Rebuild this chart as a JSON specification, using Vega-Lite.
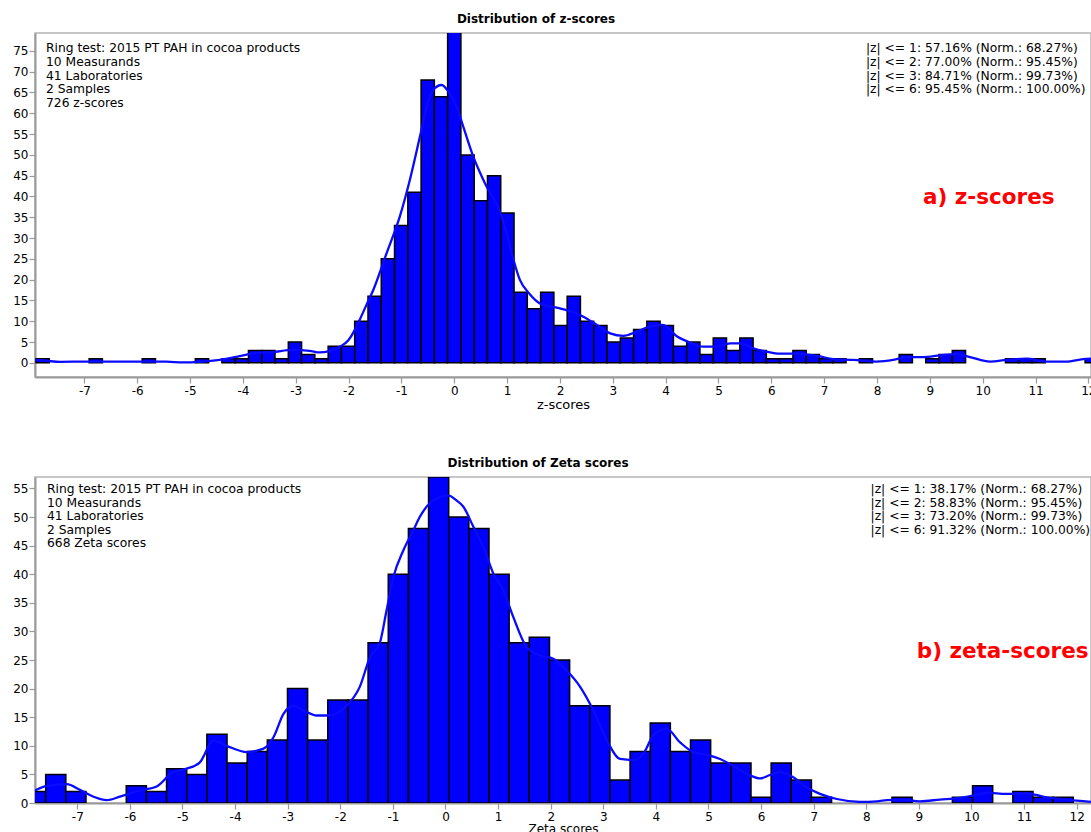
{
  "$schema": "https://vega.github.io/schema/vega-lite/v6.json",
  "padding": {"left": 11, "top": 12, "right": -5, "bottom": 0},
  "bounds": "flush",
  "spacing": 100,
  "config": {
    "font": "DejaVu Sans",
    "view": {"stroke": "#b4b4b4", "strokeWidth": 1.5},
    "axis": {"domainColor": "#9a9a9a", "domainWidth": 2, "tickColor": "#9a9a9a", "tickWidth": 1.2, "tickSize": 6, "grid": false, "labelFont": "DejaVu Sans", "labelFontSize": 12, "labelColor": "#000000", "labelOverlap": false, "labelExpr": "'' + datum.value", "titleFont": "DejaVu Sans", "titleFontSize": 13, "titleFontWeight": "normal", "titleColor": "#000000"},
    "title": {"font": "DejaVu Sans", "fontSize": 12, "fontWeight": "bold", "color": "#000000", "baseline": "alphabetic", "offset": 7, "anchor": "middle"}
  },
  "datasets": {
    "zbars": [
      {"x": -7.916, "hi": -7.665, "y": 1}, {"x": -6.911, "hi": -6.660, "y": 1}, {"x": -5.906, "hi": -5.655, "y": 1}, {"x": -4.901, "hi": -4.650, "y": 1},
      {"x": -4.398, "hi": -4.147, "y": 1}, {"x": -4.147, "hi": -3.896, "y": 1}, {"x": -3.895, "hi": -3.644, "y": 3}, {"x": -3.644, "hi": -3.393, "y": 3},
      {"x": -3.393, "hi": -3.142, "y": 1}, {"x": -3.141, "hi": -2.890, "y": 5}, {"x": -2.890, "hi": -2.639, "y": 2}, {"x": -2.639, "hi": -2.388, "y": 1},
      {"x": -2.387, "hi": -2.136, "y": 4}, {"x": -2.136, "hi": -1.885, "y": 4}, {"x": -1.885, "hi": -1.634, "y": 10}, {"x": -1.633, "hi": -1.382, "y": 16},
      {"x": -1.382, "hi": -1.131, "y": 25}, {"x": -1.131, "hi": -0.880, "y": 33}, {"x": -0.879, "hi": -0.628, "y": 41}, {"x": -0.628, "hi": -0.377, "y": 68},
      {"x": -0.377, "hi": -0.126, "y": 64}, {"x": -0.126, "hi": 0.125, "y": 80}, {"x": 0.126, "hi": 0.377, "y": 50}, {"x": 0.377, "hi": 0.628, "y": 39},
      {"x": 0.628, "hi": 0.879, "y": 45}, {"x": 0.880, "hi": 1.131, "y": 36}, {"x": 1.131, "hi": 1.382, "y": 17}, {"x": 1.382, "hi": 1.633, "y": 13},
      {"x": 1.634, "hi": 1.885, "y": 17}, {"x": 1.885, "hi": 2.136, "y": 9}, {"x": 2.136, "hi": 2.387, "y": 16}, {"x": 2.388, "hi": 2.639, "y": 10},
      {"x": 2.639, "hi": 2.890, "y": 9}, {"x": 2.890, "hi": 3.141, "y": 5}, {"x": 3.142, "hi": 3.393, "y": 6}, {"x": 3.393, "hi": 3.644, "y": 8},
      {"x": 3.644, "hi": 3.895, "y": 10}, {"x": 3.896, "hi": 4.147, "y": 9}, {"x": 4.147, "hi": 4.398, "y": 4}, {"x": 4.398, "hi": 4.649, "y": 5},
      {"x": 4.650, "hi": 4.901, "y": 2}, {"x": 4.901, "hi": 5.152, "y": 6}, {"x": 5.152, "hi": 5.403, "y": 3}, {"x": 5.404, "hi": 5.655, "y": 6},
      {"x": 5.655, "hi": 5.906, "y": 3}, {"x": 5.906, "hi": 6.157, "y": 1}, {"x": 6.157, "hi": 6.408, "y": 1}, {"x": 6.409, "hi": 6.660, "y": 3},
      {"x": 6.660, "hi": 6.911, "y": 2}, {"x": 6.911, "hi": 7.162, "y": 1}, {"x": 7.163, "hi": 7.414, "y": 1}, {"x": 7.665, "hi": 7.916, "y": 1},
      {"x": 8.419, "hi": 8.670, "y": 2}, {"x": 8.922, "hi": 9.173, "y": 1}, {"x": 9.173, "hi": 9.424, "y": 2}, {"x": 9.425, "hi": 9.676, "y": 3},
      {"x": 10.430, "hi": 10.681, "y": 1}, {"x": 10.681, "hi": 10.932, "y": 1}, {"x": 10.933, "hi": 11.184, "y": 1}, {"x": 11.938, "hi": 12.189, "y": 1}
    ],
    "zline": [
      {"x": -7.935, "y": 0.7}, {"x": -7.7, "y": 0.45}, {"x": -7.45, "y": 0.25}, {"x": -7.0, "y": 0.3}, {"x": -6.6, "y": 0.3}, {"x": -6.3, "y": 0.3},
      {"x": -5.95, "y": 0.3}, {"x": -5.45, "y": 0.3}, {"x": -5.13, "y": 0.1}, {"x": -4.82, "y": 0.25}, {"x": -4.44, "y": 0.7}, {"x": -4.06, "y": 1.6},
      {"x": -3.75, "y": 2.4}, {"x": -3.44, "y": 2.6}, {"x": -3.06, "y": 3.1}, {"x": -2.74, "y": 2.9}, {"x": -2.55, "y": 2.5}, {"x": -2.35, "y": 2.9},
      {"x": -2.15, "y": 4.0}, {"x": -2.0, "y": 5.5}, {"x": -1.9, "y": 7.5}, {"x": -1.785, "y": 10.5}, {"x": -1.66, "y": 14}, {"x": -1.533, "y": 17.5},
      {"x": -1.28, "y": 26.4}, {"x": -1.03, "y": 35.2}, {"x": -0.84, "y": 44}, {"x": -0.65, "y": 54.4}, {"x": -0.52, "y": 61.6}, {"x": -0.4, "y": 65.6},
      {"x": -0.24, "y": 66.8}, {"x": -0.11, "y": 65.2}, {"x": 0.044, "y": 61.6}, {"x": 0.17, "y": 56.8}, {"x": 0.36, "y": 49.6}, {"x": 0.58, "y": 43.2},
      {"x": 0.87, "y": 36}, {"x": 0.99, "y": 31.2}, {"x": 1.12, "y": 24.8}, {"x": 1.24, "y": 20}, {"x": 1.43, "y": 16.5}, {"x": 1.62, "y": 14.3},
      {"x": 2.0, "y": 13.1}, {"x": 2.38, "y": 11.5}, {"x": 2.7, "y": 9.1}, {"x": 2.95, "y": 7.1}, {"x": 3.2, "y": 6.5}, {"x": 3.45, "y": 7.5},
      {"x": 3.7, "y": 8.7}, {"x": 3.95, "y": 9.1}, {"x": 4.21, "y": 6.4}, {"x": 4.46, "y": 4.9}, {"x": 4.71, "y": 3.9}, {"x": 4.96, "y": 3.9},
      {"x": 5.22, "y": 4.7}, {"x": 5.41, "y": 4.7}, {"x": 5.66, "y": 3.5}, {"x": 5.91, "y": 2.7}, {"x": 6.16, "y": 2.2}, {"x": 6.48, "y": 2.2},
      {"x": 6.73, "y": 1.9}, {"x": 6.9, "y": 1.6}, {"x": 7.17, "y": 0.9}, {"x": 7.55, "y": 0.7}, {"x": 7.99, "y": 0.3}, {"x": 8.31, "y": 0.7},
      {"x": 8.56, "y": 1.4}, {"x": 8.88, "y": 1.4}, {"x": 9.19, "y": 1.8}, {"x": 9.51, "y": 2.1}, {"x": 9.76, "y": 1.4}, {"x": 10.14, "y": 0.3},
      {"x": 10.45, "y": 0.7}, {"x": 10.83, "y": 1.0}, {"x": 11.2, "y": 0.3}, {"x": 11.58, "y": 0.3}, {"x": 11.9, "y": 0.9}, {"x": 12.05, "y": 1.0}
    ],
    "ztext": [
      {"x": -7.727, "y": 74.76, "t": "Ring test: 2015 PT PAH in cocoa products"},
      {"x": -7.727, "y": 71.44, "t": "10 Measurands"},
      {"x": -7.727, "y": 68.12, "t": "41 Laboratories"},
      {"x": -7.727, "y": 64.81, "t": "2 Samples"},
      {"x": -7.727, "y": 61.49, "t": "726 z-scores"},
      {"x": 7.79, "y": 74.76, "t": "|z| <= 1: 57.16% (Norm.: 68.27%)"},
      {"x": 7.79, "y": 71.44, "t": "|z| <= 2: 77.00% (Norm.: 95.45%)"},
      {"x": 7.79, "y": 68.12, "t": "|z| <= 3: 84.71% (Norm.: 99.73%)"},
      {"x": 7.79, "y": 64.81, "t": "|z| <= 6: 95.45% (Norm.: 100.00%)"}
    ],
    "zred": [{"x": 8.87, "y": 38.15, "t": "a) z-scores"}],
    "zetabars": [
      {"x": -7.984, "hi": -7.601, "y": 2}, {"x": -7.601, "hi": -7.218, "y": 5}, {"x": -7.218, "hi": -6.835, "y": 2}, {"x": -6.069, "hi": -5.686, "y": 3},
      {"x": -5.686, "hi": -5.303, "y": 2}, {"x": -5.303, "hi": -4.920, "y": 6}, {"x": -4.920, "hi": -4.537, "y": 5}, {"x": -4.537, "hi": -4.153, "y": 12},
      {"x": -4.153, "hi": -3.770, "y": 7}, {"x": -3.770, "hi": -3.387, "y": 9}, {"x": -3.387, "hi": -3.004, "y": 11}, {"x": -3.004, "hi": -2.621, "y": 20},
      {"x": -2.621, "hi": -2.238, "y": 11}, {"x": -2.238, "hi": -1.855, "y": 18}, {"x": -1.855, "hi": -1.472, "y": 18}, {"x": -1.472, "hi": -1.088, "y": 28},
      {"x": -1.088, "hi": -0.705, "y": 40}, {"x": -0.705, "hi": -0.322, "y": 48}, {"x": -0.322, "hi": 0.061, "y": 57}, {"x": 0.061, "hi": 0.444, "y": 50},
      {"x": 0.444, "hi": 0.827, "y": 48}, {"x": 0.827, "hi": 1.210, "y": 40}, {"x": 1.210, "hi": 1.593, "y": 28}, {"x": 1.593, "hi": 1.977, "y": 29},
      {"x": 1.977, "hi": 2.360, "y": 25}, {"x": 2.360, "hi": 2.743, "y": 17}, {"x": 2.743, "hi": 3.126, "y": 17}, {"x": 3.126, "hi": 3.509, "y": 4},
      {"x": 3.509, "hi": 3.892, "y": 9}, {"x": 3.892, "hi": 4.275, "y": 14}, {"x": 4.275, "hi": 4.658, "y": 9}, {"x": 4.658, "hi": 5.041, "y": 11},
      {"x": 5.041, "hi": 5.425, "y": 7}, {"x": 5.425, "hi": 5.808, "y": 7}, {"x": 5.808, "hi": 6.191, "y": 1}, {"x": 6.191, "hi": 6.574, "y": 7},
      {"x": 6.574, "hi": 6.957, "y": 4}, {"x": 6.957, "hi": 7.340, "y": 1}, {"x": 8.488, "hi": 8.871, "y": 1}, {"x": 9.637, "hi": 10.020, "y": 1},
      {"x": 10.020, "hi": 10.403, "y": 3}, {"x": 10.786, "hi": 11.169, "y": 2}, {"x": 11.169, "hi": 11.552, "y": 1}, {"x": 11.552, "hi": 11.935, "y": 1}
    ],
    "zetaline": [
      {"x": -7.804, "y": 2.2}, {"x": -7.58, "y": 3.0}, {"x": -7.2, "y": 3.3}, {"x": -6.95, "y": 2.3}, {"x": -6.69, "y": 1.1}, {"x": -6.44, "y": 0.5},
      {"x": -6.19, "y": 1.1}, {"x": -5.81, "y": 2.2}, {"x": -5.49, "y": 2.9}, {"x": -5.18, "y": 5.4}, {"x": -4.92, "y": 6.0}, {"x": -4.67, "y": 7.1},
      {"x": -4.41, "y": 10.9}, {"x": -4.16, "y": 10.0}, {"x": -3.78, "y": 8.9}, {"x": -3.46, "y": 9.5}, {"x": -3.27, "y": 11.5}, {"x": -3.08, "y": 15.6},
      {"x": -2.89, "y": 17.0}, {"x": -2.7, "y": 16.2}, {"x": -2.45, "y": 15.3}, {"x": -2.23, "y": 15.3}, {"x": -1.88, "y": 17.0}, {"x": -1.63, "y": 20.3},
      {"x": -1.435, "y": 25.5}, {"x": -1.245, "y": 28.1}, {"x": -1.12, "y": 33.7}, {"x": -0.99, "y": 39.5}, {"x": -0.8, "y": 44.2}, {"x": -0.61, "y": 47.7},
      {"x": -0.49, "y": 50.0}, {"x": -0.3, "y": 52.4}, {"x": -0.105, "y": 53.5}, {"x": 0.05, "y": 53.8}, {"x": 0.21, "y": 52.9}, {"x": 0.34, "y": 51.8},
      {"x": 0.53, "y": 48.3}, {"x": 0.72, "y": 44.8}, {"x": 0.91, "y": 40.1}, {"x": 1.1, "y": 37.2}, {"x": 1.29, "y": 32.5}, {"x": 1.54, "y": 27.3},
      {"x": 1.8, "y": 25.8}, {"x": 2.05, "y": 25.2}, {"x": 2.3, "y": 23.2}, {"x": 2.56, "y": 20.3}, {"x": 2.81, "y": 16.2}, {"x": 3.07, "y": 10.9},
      {"x": 3.32, "y": 7.7}, {"x": 3.57, "y": 7.5}, {"x": 3.76, "y": 8.6}, {"x": 3.95, "y": 11.8}, {"x": 4.2, "y": 13.0}, {"x": 4.46, "y": 10.6},
      {"x": 4.71, "y": 8.9}, {"x": 5.03, "y": 8.3}, {"x": 5.22, "y": 7.7}, {"x": 5.47, "y": 6.5}, {"x": 5.73, "y": 5.1}, {"x": 5.98, "y": 4.3},
      {"x": 6.17, "y": 4.9}, {"x": 6.36, "y": 5.4}, {"x": 6.61, "y": 4.5}, {"x": 6.87, "y": 2.7}, {"x": 7.12, "y": 1.6}, {"x": 7.44, "y": 0.7},
      {"x": 7.88, "y": 0.2}, {"x": 8.2, "y": 0.3}, {"x": 8.39, "y": 0.5}, {"x": 8.64, "y": 0.6}, {"x": 9.02, "y": 0.3}, {"x": 9.4, "y": 0.6},
      {"x": 9.78, "y": 0.9}, {"x": 10.03, "y": 1.3}, {"x": 10.3, "y": 1.8}, {"x": 10.66, "y": 1.6}, {"x": 11.04, "y": 1.7}, {"x": 11.42, "y": 1.0},
      {"x": 11.8, "y": 0.6}, {"x": 12.27, "y": 0.2}
    ],
    "zetatext": [
      {"x": -7.576, "y": 54.15, "t": "Ring test: 2015 PT PAH in cocoa products"},
      {"x": -7.576, "y": 51.76, "t": "10 Measurands"},
      {"x": -7.576, "y": 49.4, "t": "41 Laboratories"},
      {"x": -7.576, "y": 47.04, "t": "2 Samples"},
      {"x": -7.576, "y": 44.68, "t": "668 Zeta scores"},
      {"x": 8.08, "y": 54.15, "t": "|z| <= 1: 38.17% (Norm.: 68.27%)"},
      {"x": 8.08, "y": 51.76, "t": "|z| <= 2: 58.83% (Norm.: 95.45%)"},
      {"x": 8.08, "y": 49.4, "t": "|z| <= 3: 73.20% (Norm.: 99.73%)"},
      {"x": 8.08, "y": 47.04, "t": "|z| <= 6: 91.32% (Norm.: 100.00%)"}
    ],
    "zetared": [{"x": 8.96, "y": 25.3, "t": "b) zeta-scores"}]
  },
  "vconcat": [
    {
      "width": 1056,
      "height": 344,
      "title": {"text": "Distribution of  z-scores", "dx": -27},
      "encoding": {
        "x": {"field": "x", "type": "quantitative", "scale": {"domain": [-7.935, 12.05], "nice": false, "zero": false},
              "axis": {"title": "z-scores", "values": [-7, -6, -5, -4, -3, -2, -1, 0, 1, 2, 3, 4, 5, 6, 7, 8, 9, 10, 11, 12], "labelPadding": 2, "titleBaseline": "alphabetic", "titleY": 31}},
        "y": {"field": "y", "type": "quantitative", "scale": {"domain": [-3.4, 79.3], "nice": false, "zero": false},
              "axis": {"title": null, "values": [0, 5, 10, 15, 20, 25, 30, 35, 40, 45, 50, 55, 60, 65, 70, 75], "labelPadding": 1}}
      },
      "layer": [
        {
          "data": {"name": "zbars"},
          "mark": {"type": "bar", "fill": "#0000ff", "stroke": "#000000", "strokeWidth": 1.5, "clip": true},
          "encoding": {"x2": {"field": "hi"}, "y2": {"datum": 0}}
        },
        {
          "data": {"name": "zline"},
          "mark": {"type": "line", "color": "#0a0aff", "strokeWidth": 2.3, "interpolate": "monotone", "clip": true},
          "encoding": {}
        },
        {
          "data": {"name": "ztext"},
          "mark": {"type": "text", "align": "left", "baseline": "alphabetic", "fontSize": 12.3, "font": "DejaVu Sans", "color": "#000000"},
          "encoding": {"text": {"field": "t"}}
        },
        {
          "data": {"name": "zred"},
          "mark": {"type": "text", "align": "left", "baseline": "alphabetic", "fontSize": 21.5, "fontWeight": "bold", "font": "DejaVu Sans", "color": "#ff0000"},
          "encoding": {"text": {"field": "t"}}
        }
      ]
    },
    {
      "width": 1056,
      "height": 326,
      "title": {"text": "Distribution of  Zeta scores", "dx": -25},
      "encoding": {
        "x": {"field": "x", "type": "quantitative", "scale": {"domain": [-7.804, 12.272], "nice": false, "zero": false},
              "axis": {"title": "Zeta scores", "values": [-7, -6, -5, -4, -3, -2, -1, 0, 1, 2, 3, 4, 5, 6, 7, 8, 9, 10, 11, 12], "labelPadding": 2, "titleBaseline": "alphabetic", "titleY": 29, "titleFontSize": 12}},
        "y": {"field": "y", "type": "quantitative", "scale": {"domain": [0, 57], "nice": false, "zero": false},
              "axis": {"title": null, "values": [0, 5, 10, 15, 20, 25, 30, 35, 40, 45, 50, 55], "labelPadding": 1}}
      },
      "layer": [
        {
          "data": {"name": "zetabars"},
          "mark": {"type": "bar", "fill": "#0000ff", "stroke": "#000000", "strokeWidth": 1.5, "clip": true},
          "encoding": {"x2": {"field": "hi"}, "y2": {"datum": 0}}
        },
        {
          "data": {"name": "zetaline"},
          "mark": {"type": "line", "color": "#0a0aff", "strokeWidth": 2.3, "interpolate": "monotone", "clip": true},
          "encoding": {}
        },
        {
          "data": {"name": "zetatext"},
          "mark": {"type": "text", "align": "left", "baseline": "alphabetic", "fontSize": 12.3, "font": "DejaVu Sans", "color": "#000000"},
          "encoding": {"text": {"field": "t"}}
        },
        {
          "data": {"name": "zetared"},
          "mark": {"type": "text", "align": "left", "baseline": "alphabetic", "fontSize": 21.5, "fontWeight": "bold", "font": "DejaVu Sans", "color": "#ff0000"},
          "encoding": {"text": {"field": "t"}}
        }
      ]
    }
  ]
}
